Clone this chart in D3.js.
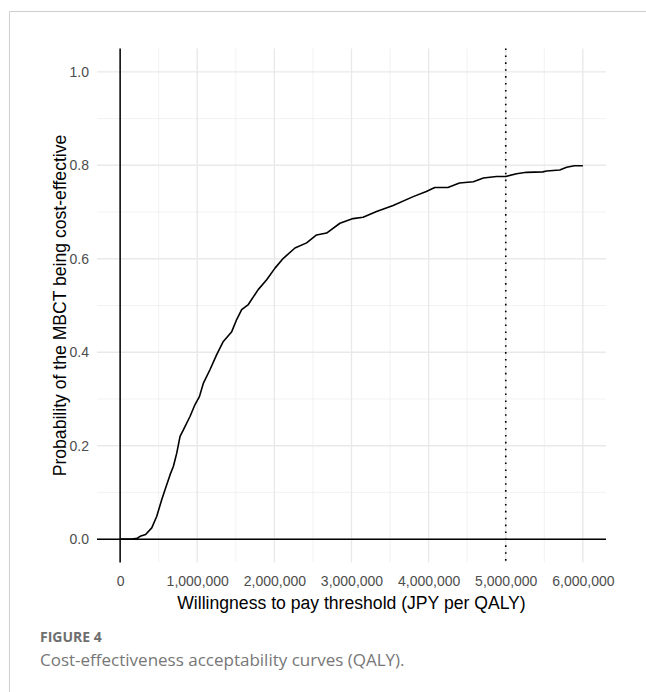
<!DOCTYPE html>
<html>
<head>
<meta charset="utf-8">
<script src="https://cdn.jsdelivr.net/npm/d3@7"></script>
<style>
	html, body { margin: 0; padding: 0; background: #fff; }
	svg { display: block; }
</style>
</head>
<body>
<svg id="chart"></svg>
<script>
// willingness to pay (JPY per QALY) and probability MBCT is cost-effective
const wtp = [
	0, 150000, 220000, 260000, 330000, 410000, 475000, 540000, 583000, 648000,
	691000, 734000, 777000, 820000, 907000, 971000, 1028000, 1080000, 1166000, 1252000,
	1338000, 1447000, 1511000, 1576000, 1662000, 1790000, 1900000, 2008000, 2116000, 2267000,
	2418000, 2547000, 2677000, 2850000, 3020000, 3150000, 3325000, 3540000, 3800000, 3970000,
	4080000, 4250000, 4400000, 4580000, 4710000, 4880000, 5000000, 5140000, 5270000, 5480000,
	5530000, 5700000, 5790000, 5890000, 6000000
];
const prob = [
	0, 0, 0.002, 0.006, 0.01, 0.024, 0.049, 0.085, 0.106, 0.138,
	0.156, 0.184, 0.22, 0.234, 0.263, 0.288, 0.305, 0.334, 0.363, 0.395,
	0.423, 0.444, 0.47, 0.491, 0.502, 0.534, 0.555, 0.58, 0.601, 0.623,
	0.634, 0.651, 0.655, 0.676, 0.686, 0.689, 0.701, 0.714, 0.733, 0.744,
	0.7525, 0.7525, 0.762, 0.765, 0.7727, 0.776, 0.776, 0.782, 0.785, 0.786,
	0.788, 0.79, 0.796, 0.799, 0.799
];

const xTicks = [0, 1000000, 2000000, 3000000, 4000000, 5000000, 6000000];
const xMinor = [500000, 1500000, 2500000, 3500000, 4500000, 5500000];
const yTicks = [0, 0.2, 0.4, 0.6, 0.8, 1.0];
const yMinor = [0.1, 0.3, 0.5, 0.7, 0.9];
const threshold = 5000000;

const xTitle = "Willingness to pay threshold (JPY per QALY)";
const yTitle = "Probability of the MBCT being cost-effective";
const figLabel = "FIGURE 4";
const figCaption = "Cost-effectiveness acceptability curves (QALY).";

const W = 646, H = 692;
const panel = {left: 97, right: 606, top: 48.5, bottom: 562.5};
const font = "'Liberation Sans', Arial, sans-serif";

const svg = d3.select("#chart")
	.attr("width", W)
	.attr("height", H);

// frame of the figure
svg.append("path")
	.attr("d", `M9.5,${H}V11.5H${W}`)
	.attr("fill", "none")
	.attr("stroke", "#cfcfcf")
	.attr("stroke-width", 1);

const x = d3.scaleLinear()
	.domain([-300000, 6300000])
	.range([panel.left, panel.right]);
const y = d3.scaleLinear()
	.domain([-0.05, 1.05])
	.range([panel.bottom, panel.top]);

const grid = svg.append("g");

grid.selectAll(".vminor").data(xMinor).join("line")
	.attr("x1", d => x(d)).attr("x2", d => x(d))
	.attr("y1", panel.top).attr("y2", panel.bottom)
	.attr("stroke", "#f1f1f1").attr("stroke-width", 0.9);
grid.selectAll(".hminor").data(yMinor).join("line")
	.attr("y1", d => y(d)).attr("y2", d => y(d))
	.attr("x1", panel.left).attr("x2", panel.right)
	.attr("stroke", "#f1f1f1").attr("stroke-width", 0.9);
grid.selectAll(".vmajor").data(xTicks).join("line")
	.attr("x1", d => x(d)).attr("x2", d => x(d))
	.attr("y1", panel.top).attr("y2", panel.bottom)
	.attr("stroke", "#e9e9e9").attr("stroke-width", 1.4);
grid.selectAll(".hmajor").data(yTicks).join("line")
	.attr("y1", d => y(d)).attr("y2", d => y(d))
	.attr("x1", panel.left).attr("x2", panel.right)
	.attr("stroke", "#e9e9e9").attr("stroke-width", 1.4);

// reference lines at zero
svg.append("line")
	.attr("x1", panel.left).attr("x2", panel.right)
	.attr("y1", y(0)).attr("y2", y(0))
	.attr("stroke", "#000").attr("stroke-width", 1.5);
svg.append("line")
	.attr("x1", x(0)).attr("x2", x(0))
	.attr("y1", panel.top).attr("y2", panel.bottom)
	.attr("stroke", "#000").attr("stroke-width", 1.5);

// threshold
svg.append("line")
	.attr("x1", x(threshold)).attr("x2", x(threshold))
	.attr("y1", panel.top).attr("y2", panel.bottom)
	.attr("stroke", "#000").attr("stroke-width", 1.6)
	.attr("stroke-dasharray", "1.6,5.3");

const line = d3.line()
	.x(d => x(d[0]))
	.y(d => y(d[1]));

svg.append("path")
	.datum(d3.zip(wtp, prob))
	.attr("fill", "none")
	.attr("stroke", "#000")
	.attr("stroke-width", 1.6)
	.attr("stroke-linejoin", "round")
	.attr("d", line);

// axes (labels only, as in theme_minimal)
const xAxis = svg.append("g")
	.attr("transform", `translate(0,${panel.bottom})`)
	.call(d3.axisBottom(x).tickValues(xTicks).tickFormat(d3.format(",")).tickSize(0).tickPadding(13.3));
const yAxis = svg.append("g")
	.attr("transform", `translate(${panel.left},0)`)
	.call(d3.axisLeft(y).tickValues(yTicks).tickFormat(d3.format(".1f")).tickSize(0).tickPadding(8));

[xAxis, yAxis].forEach(a => {
	a.select(".domain").remove();
	a.selectAll("text")
		.attr("fill", "#4d4d4d")
		.style("font-family", font)
		.style("font-size", "14px");
});

svg.append("text")
	.attr("x", (panel.left + panel.right) / 2)
	.attr("y", 608.5)
	.attr("text-anchor", "middle")
	.style("font-family", font)
	.style("font-size", "17.6px")
	.attr("fill", "#000")
	.text(xTitle);

svg.append("text")
	.attr("transform", `translate(66,${(panel.top + panel.bottom) / 2}) rotate(-90)`)
	.attr("text-anchor", "middle")
	.style("font-family", font)
	.style("font-size", "17.6px")
	.attr("fill", "#000")
	.text(yTitle);

// caption
svg.append("text")
	.attr("x", 40)
	.attr("y", 641.7)
	.style("font-family", "'Open Sans', sans-serif")
	.style("font-size", "14px")
	.style("font-weight", "700")
	.attr("fill", "#6e6e6e")
	.text(figLabel);

svg.append("text")
	.attr("x", 40)
	.attr("y", 666)
	.style("font-family", "'Open Sans', sans-serif")
	.style("font-size", "17px")
	.attr("fill", "#777")
	.text(figCaption);
</script>
</body>
</html>
